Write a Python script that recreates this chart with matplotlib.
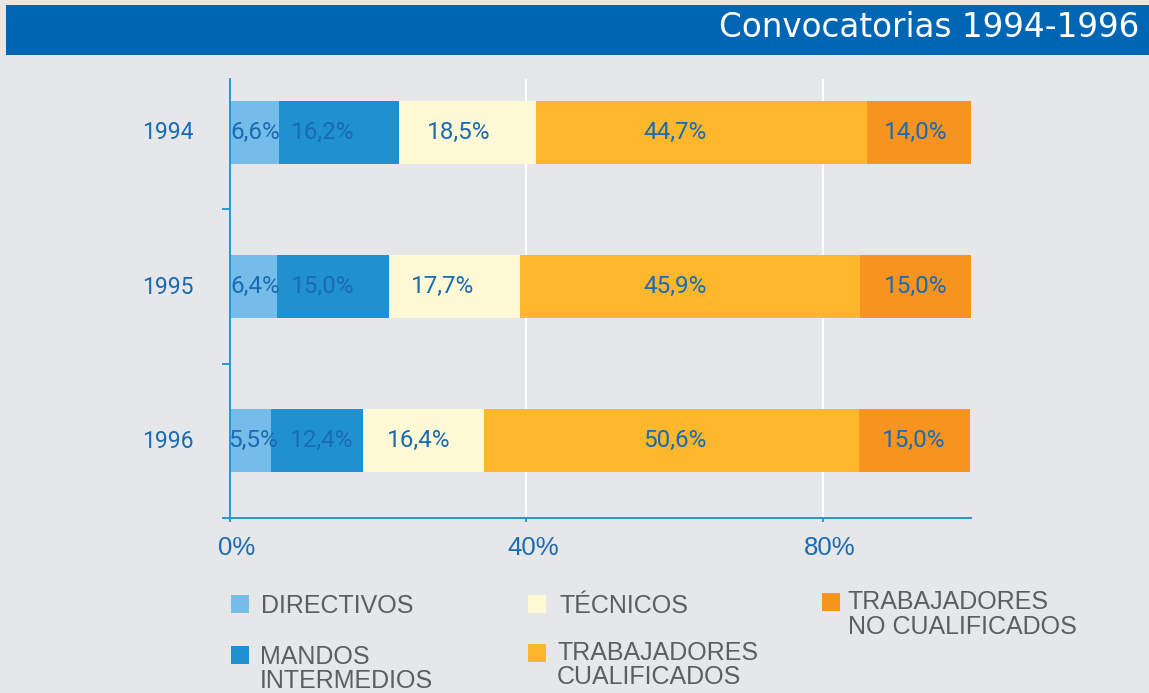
import matplotlib.pyplot as plt
import matplotlib.transforms as mtransforms
from matplotlib.patches import Rectangle

W, H = 1149, 693  # figure size in pixels

years = ["1994", "1995", "1996"]
categories = ["DIRECTIVOS", "MANDOS\nINTERMEDIOS", "TÉCNICOS",
              "TRABAJADORES\nCUALIFICADOS", "TRABAJADORES\nNO CUALIFICADOS"]
directivos = [6.6, 6.4, 5.5]
mandos = [16.2, 15.0, 12.4]
tecnicos = [18.5, 17.7, 16.4]
cualificados = [44.7, 45.9, 50.6]
no_cualificados = [14.0, 15.0, 15.0]
series = [directivos, mandos, tecnicos, cualificados, no_cualificados]

colors = ["#75bde8", "#1f91d0", "#fff9d6", "#fcb72c", "#f7931f"]
bg = "#e6e7e9"
banner = "#0066b3"
axis_col = "#2a94d4"
text_blue = "#1a6bb3"
legend_grey = "#5d5e60"

# where the % labels sit inside each row (in % of the x axis)
label_pos = [[3.4, 12.5, 30.9, 60.0, 92.6],
             [3.4, 12.5, 28.7, 60.0, 92.6],
             [3.1, 12.4, 25.4, 60.0, 92.3]]

# legend layout, pixels: square x, square top, text x, first baseline
legend_pos = [(231, 595, 261, 613),
              (231, 646, 260, 664),
              (528, 595, 559, 613),
              (528, 644, 557, 660),
              (822, 593, 848, 609)]

narrow = ["Roboto", "DejaVu Sans"]


def px(x, y):
    return x / W, 1 - y / H


fig = plt.figure(figsize=(W / 100, H / 100), dpi=100, facecolor=bg)

# title banner
fig.add_artist(Rectangle(px(6, 55), (W - 6) / W, 50 / H, transform=fig.transFigure,
                         facecolor=banner, edgecolor="none"))
fig.text(*px(1139, 37), "Convocatorias 1994-1996", ha="right", va="baseline",
         color="white", fontsize=23.5, family="DejaVu Sans")

ax = fig.add_axes([230 / W, 1 - 518 / H, 741 / W, 439 / H])
ax.set_facecolor(bg)

left = [0, 0, 0]
for vals, col in zip(series, colors):
    ax.barh(range(len(years)), vals, left=left, height=0.41, color=col, zorder=2)
    left = [l + v for l, v in zip(left, vals)]

for i, row in enumerate(label_pos):
    for j, xpos in enumerate(row):
        txt = f"{series[j][i]:.1f}%".replace(".", ",")
        ax.text(xpos, i, txt, ha="center", va="center", color=text_blue,
                fontsize=17.5, family=narrow, zorder=3)

for g in [40, 80]:
    ax.axvline(g, color="white", lw=1.5, zorder=1)

ax.set_xlim(0, 100)
ax.set_ylim(2.5, -0.345)

ax.set_xticks([0, 40, 80], labels=["0%", "40%", "80%"])
ax.tick_params(axis="x", length=3, width=1.4, color=axis_col, pad=10,
               labelsize=18.5, labelcolor=text_blue)
offset = mtransforms.ScaledTranslation(7 / 100, 0, fig.dpi_scale_trans)
for lab in ax.get_xticklabels():
    lab.set_family("Liberation Sans")
    lab.set_transform(lab.get_transform() + offset)

ax.set_yticks([0.5, 1.5, 2.5], labels=["", "", ""])
ax.set_yticks([0, 1, 2], labels=years, minor=True)
ax.tick_params(axis="y", which="major", length=6, width=1.4, color=axis_col)
ax.tick_params(axis="y", which="minor", length=0, pad=26, labelsize=16.5,
               labelcolor=text_blue)
up = mtransforms.ScaledTranslation(0, 2 / 100, fig.dpi_scale_trans)
for lab in ax.get_yticklabels(minor=True):
    lab.set_family(narrow)
    lab.set_transform(lab.get_transform() + up)

for s in ["top", "right"]:
    ax.spines[s].set_visible(False)
for s in ["left", "bottom"]:
    ax.spines[s].set_color(axis_col)
    ax.spines[s].set_linewidth(1.4)

# legend, drawn by hand to keep the staggered layout
for name, col, (sx, sy, tx, ty) in zip(categories, colors, legend_pos):
    fig.add_artist(Rectangle(px(sx, sy + 18), 18 / W, 18 / H, transform=fig.transFigure,
                             facecolor=col, edgecolor="none"))
    for k, line in enumerate(name.split("\n")):
        fig.text(*px(tx, ty + k * 24.5), line, ha="left", va="baseline",
                 color=legend_grey, fontsize=18, family="Liberation Sans")

fig.savefig("out.png", dpi=100, facecolor=bg)
